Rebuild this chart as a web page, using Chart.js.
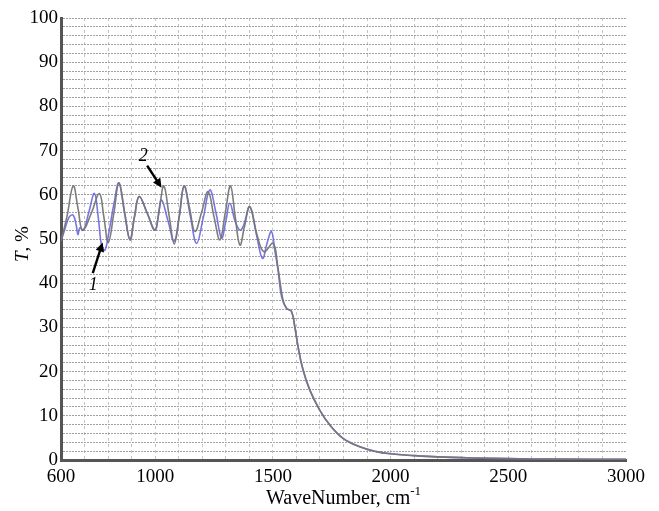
<!DOCTYPE html>
<html>
<head>
<meta charset="utf-8">
<script src="https://cdn.jsdelivr.net/npm/chart.js@4.4.0/dist/chart.umd.min.js"></script>
<style>
  html, body { margin: 0; padding: 0; background: #fff; }
  canvas { display: block; }
</style>
</head>
<body>
<canvas id="irChart" width="659" height="511"></canvas>
<script>
// curve 1 (blue)
const wnBlue = [600, 615, 635, 652, 665, 672, 680, 695, 718, 742, 758, 773, 787, 805, 825, 846, 870, 893, 912, 932, 965, 999, 1013, 1027, 1055, 1081, 1102, 1123, 1150, 1176, 1205, 1232, 1258, 1282, 1300, 1317, 1340, 1360, 1375, 1402, 1430, 1456, 1475, 1494, 1508, 1522, 1537, 1558, 1579, 1593, 1607, 1628, 1657, 1699, 1742, 1798, 1869, 1940, 2000, 2100, 2200, 2350, 2500, 2700, 3000];
const tBlue  = [49.5, 52, 55, 55.4, 53, 51, 52.5, 52, 56, 60.3, 55, 48.3, 47.5, 52, 58, 62.7, 56, 49.8, 55, 59.6, 56, 52, 55, 58.8, 54, 49.5, 55, 62, 55, 49, 55, 61.1, 56, 50.2, 54, 58.1, 54, 52, 53, 57.3, 51, 45.6, 49, 51.7, 47.5, 43, 36.9, 34.3, 33.6, 30.2, 25.6, 20.4, 15.8, 11.3, 7.9, 4.9, 3.0, 1.9, 1.4, 1.0, 0.7, 0.45, 0.3, 0.2, 0.15];

// curve 2 (gray)
const wnGray = [600, 625, 652, 672, 692, 730, 763, 782, 801, 825, 846, 870, 893, 912, 932, 965, 999, 1018, 1037, 1060, 1081, 1102, 1123, 1146, 1169, 1197, 1225, 1250, 1275, 1298, 1320, 1340, 1360, 1380, 1402, 1435, 1462, 1501, 1520, 1543, 1558, 1579, 1593, 1607, 1628, 1657, 1699, 1742, 1798, 1869, 1940, 2000, 2100, 2200, 2350, 2500, 2700, 3000];
const tGray  = [49.5, 55, 62, 57, 52, 56, 60.3, 55, 49.2, 56, 62.7, 56, 49.8, 55, 59.6, 56, 52, 57, 62, 55, 48.9, 55, 62, 57, 51.7, 56, 60.7, 55, 49.8, 56, 62, 55, 48.6, 53, 57.3, 50.5, 47.1, 49, 44, 36.2, 34.3, 33.6, 30.2, 25.6, 20.4, 15.8, 11.3, 7.9, 4.9, 3.0, 1.9, 1.4, 1.0, 0.7, 0.45, 0.3, 0.2, 0.15];

const xTickLabels = [600, 1000, 1500, 2000, 2500, 3000];
const yTickLabels = [0, 10, 20, 30, 40, 50, 60, 70, 80, 90, 100];

// curve markers: label position, arrow tail, arrow head (data units)
const notes = [
    { text: '2', at: [949, 68.8], from: [966, 66.6], to: [1027, 61.6] },
    { text: '1', at: [737, 39.6], from: [735, 42.3], to: [777, 49.2] }
];

const serif = '"Liberation Serif", "Times New Roman", serif';

const toPoints = (xs, ys) => xs.map((x, i) => ({ x: x, y: ys[i] }));

const extrasPlugin = {
    id: 'extras',
    afterDatasetsDraw(chart) {
        const ctx = chart.ctx;
        const xs = chart.scales.x;
        const ys = chart.scales.y;

        // arrows + curve numbers
        notes.forEach(n => {
            const x1 = xs.getPixelForValue(n.from[0]), y1 = ys.getPixelForValue(n.from[1]);
            const x2 = xs.getPixelForValue(n.to[0]), y2 = ys.getPixelForValue(n.to[1]);
            const ang = Math.atan2(y2 - y1, x2 - x1);
            const head = 10;
            ctx.save();
            ctx.strokeStyle = '#000';
            ctx.fillStyle = '#000';
            ctx.lineWidth = 2.4;
            ctx.beginPath();
            ctx.moveTo(x1, y1);
            ctx.lineTo(x2 - Math.cos(ang) * head * 0.7, y2 - Math.sin(ang) * head * 0.7);
            ctx.stroke();
            ctx.beginPath();
            ctx.moveTo(x2, y2);
            ctx.lineTo(x2 - head * Math.cos(ang - 0.45), y2 - head * Math.sin(ang - 0.45));
            ctx.lineTo(x2 - head * Math.cos(ang + 0.45), y2 - head * Math.sin(ang + 0.45));
            ctx.closePath();
            ctx.fill();

            ctx.font = 'italic 18px ' + serif;
            ctx.textAlign = 'center';
            ctx.textBaseline = 'middle';
            ctx.fillText(n.text, xs.getPixelForValue(n.at[0]), ys.getPixelForValue(n.at[1]));
            ctx.restore();
        });
    },
    afterDraw(chart) {
        const ctx = chart.ctx;
        const area = chart.chartArea;
        ctx.save();
        ctx.fillStyle = '#000';
        ctx.textBaseline = 'alphabetic';

        // y title: italic T + ", %"
        const italic = 'italic 19px ' + serif;
        const upright = '19px ' + serif;
        ctx.font = italic;
        const wT = ctx.measureText('T').width;
        ctx.font = upright;
        const wRest = ctx.measureText(', %').width;
        ctx.translate(28, 244);
        ctx.rotate(-Math.PI / 2);
        let x0 = -(wT + wRest) / 2;
        ctx.textAlign = 'left';
        ctx.font = italic;
        ctx.fillText('T', x0, 0);
        ctx.font = upright;
        ctx.fillText(', %', x0 + wT, 0);
        ctx.setTransform(1, 0, 0, 1, 0, 0);

        // x title with superscript
        const xFont = '20px ' + serif;
        const supFont = '13px ' + serif;
        ctx.font = xFont;
        const main = 'WaveNumber, cm';
        const wMain = ctx.measureText(main).width;
        ctx.font = supFont;
        const wSup = ctx.measureText('-1').width;
        const cx = (area.left + area.right) / 2;
        const bx = cx - (wMain + wSup) / 2;
        ctx.font = xFont;
        ctx.fillText(main, bx, 504);
        ctx.font = supFont;
        ctx.fillText('-1', bx + wMain, 495);
        ctx.restore();
    }
};

new Chart(document.getElementById('irChart'), {
    type: 'line',
    data: {
        datasets: [{
            label: '2',
            data: toPoints(wnGray, tGray),
            borderColor: 'rgba(118, 118, 118, 0.95)',
            borderWidth: 1.6,
            pointRadius: 0,
            tension: 0.4,
            fill: false
        }, {
            label: '1',
            data: toPoints(wnBlue, tBlue),
            borderColor: 'rgba(95, 95, 220, 0.85)',
            borderWidth: 1.6,
            pointRadius: 0,
            tension: 0.4,
            fill: false
        }]
    },
    options: {
        responsive: false,
        animation: false,
        layout: { padding: { top: 18, right: 33, left: 0, bottom: 0 } },
        plugins: {
            legend: { display: false },
            tooltip: { enabled: false }
        },
        scales: {
            x: {
                type: 'linear',
                min: 600,
                max: 3000,
                afterFit: scale => { scale.height = 51; },
                ticks: {
                    stepSize: 100,
                    autoSkip: false,
                    maxRotation: 0,
                    padding: 6,
                    color: '#000',
                    font: { family: serif, size: 19 },
                    callback: v => xTickLabels.includes(v) ? String(v) : ''
                },
                grid: {
                    drawTicks: false,
                    lineWidth: 1,
                    color: c => (c.tick && c.tick.value === 3000) ? 'rgba(0,0,0,0)' : 'rgba(190,190,190,0.9)'
                },
                border: { display: true, color: '#555', width: 3, dash: [3, 3] }
            },
            y: {
                min: 0,
                max: 100,
                afterFit: scale => { scale.width = 61; },
                ticks: {
                    stepSize: 2,
                    autoSkip: false,
                    padding: 3,
                    color: '#000',
                    font: { family: serif, size: 19 },
                    callback: v => yTickLabels.includes(v) ? String(v) : ''
                },
                grid: {
                    drawTicks: false,
                    lineWidth: 1,
                    color: 'rgba(150,150,150,0.9)'
                },
                border: { display: true, color: '#555', width: 3, dash: [2, 1] }
            }
        }
    },
    plugins: [extrasPlugin]
});
</script>
</body>
</html>
